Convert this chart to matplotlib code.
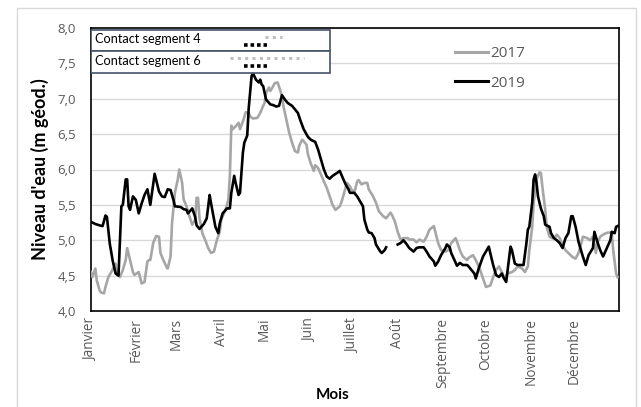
import numpy as np
import matplotlib
matplotlib.use('Agg')
import matplotlib.pyplot as plt
import matplotlib.transforms as mtransforms
from matplotlib.patches import Rectangle

plt.rcParams['font.family'] = ['Open Sans', 'DejaVu Sans']

# Mois (début de chaque mois en jour de l'année)
mois = ['Janvier', 'Février', 'Mars', 'Avril', 'Mai', 'Juin', 'Juillet',
        'Août', 'Septembre', 'Octobre', 'Novembre', 'Décembre']
debut_mois = [0, 31, 59, 90, 120, 151, 181, 212, 243, 273, 304, 334]

# Niveau d'eau 2017
jours_2017 = [0, 1, 3, 4, 6, 7, 9, 10, 12, 14, 17, 18, 20, 22, 24, 25, 27, 29, 30, 33,
              35, 37, 39, 40, 41, 43, 45, 47, 48, 50, 52, 53, 55, 56, 58, 60, 61, 63, 64, 66,
              68, 70, 72, 73, 74, 75, 77, 79, 81, 83, 85, 87, 89, 90, 93, 95, 96, 97, 98, 100,
              102, 103, 105, 107, 109, 110, 112, 115, 117, 119, 120, 121, 123, 124, 126, 127,
              129, 130, 132, 133, 135, 137, 139, 141, 143, 144, 146, 147, 149, 150, 152, 154,
              155, 157, 159, 161, 163, 165, 167, 169, 172, 173, 175, 177, 179, 180, 182, 184,
              185, 187, 189, 191, 192, 195, 197, 199, 202, 204, 207, 208, 210, 212, 214, 216,
              219, 220, 223, 225, 227, 230, 232, 234, 237, 238, 240, 242, 245, 247, 249, 252,
              253, 255, 257, 260, 261, 264, 266, 268, 269, 271, 273, 276, 278, 280, 282, 284,
              286, 288, 291, 293, 295, 298, 300, 302, 303, 305, 306, 308, 310, 311, 312, 314,
              315, 317, 319, 321, 322, 324, 326, 328, 330, 333, 335, 337, 339, 340, 343, 345,
              347, 349, 350, 352, 354, 356, 358, 360, 361, 363, 364]
niveau_2017 = [4.55, 4.48, 4.60, 4.43, 4.29, 4.26, 4.25, 4.34, 4.48, 4.55, 4.67, 4.53, 4.48, 4.58,
               4.72, 4.89, 4.72, 4.55, 4.51, 4.55, 4.39, 4.41, 4.70, 4.72, 4.72, 4.96, 5.06, 5.05,
               4.82, 4.72, 4.63, 4.60, 4.77, 5.24, 5.67, 5.86, 6.00, 5.81, 5.58, 5.48, 5.34, 5.22,
               5.29, 5.60, 5.60, 5.31, 5.10, 5.00, 4.89, 4.82, 4.84, 5.00, 5.12, 5.29, 5.43, 5.58,
               5.91, 6.62, 6.57, 6.61, 6.66, 6.57, 6.68, 6.81, 6.80, 6.75, 6.72, 6.73, 6.80, 6.90,
               6.94, 7.08, 7.16, 7.11, 7.18, 7.22, 7.23, 7.17, 7.04, 6.90, 6.71, 6.52, 6.38, 6.26,
               6.24, 6.34, 6.42, 6.40, 6.35, 6.21, 6.08, 5.98, 6.06, 6.02, 5.93, 5.83, 5.74, 5.62,
               5.50, 5.43, 5.48, 5.53, 5.67, 5.81, 5.76, 5.72, 5.67, 5.83, 5.85, 5.79, 5.81, 5.81,
               5.72, 5.62, 5.53, 5.41, 5.34, 5.31, 5.39, 5.36, 5.27, 5.12, 5.01, 5.03, 5.03, 5.01,
               5.01, 4.97, 5.01, 4.98, 5.05, 5.15, 5.20, 5.12, 4.96, 4.86, 4.84, 4.86, 4.96, 5.03,
               4.98, 4.86, 4.77, 4.72, 4.75, 4.79, 4.72, 4.63, 4.58, 4.46, 4.34, 4.36, 4.48, 4.58,
               4.63, 4.55, 4.46, 4.53, 4.55, 4.58, 4.63, 4.60, 4.55, 4.63, 4.86, 5.19, 5.53, 5.86,
               5.96, 5.95, 5.76, 5.43, 5.19, 5.05, 5.03, 5.05, 5.08, 5.03, 4.93, 4.86, 4.82, 4.76,
               4.74, 4.82, 4.96, 5.05, 5.03, 5.00, 5.05, 4.82, 4.96, 5.05, 5.08, 5.10, 5.11, 5.10,
               4.86, 4.53, 4.48]

# Niveau d'eau 2019 (lacune de mesure fin juillet)
jours_2019 = [0, 3, 6, 8, 10, 11, 13, 15, 17, 19, 20, 21, 22, 24, 25, 26, 27, 29, 31, 33,
              35, 37, 39, 41, 44, 47, 49, 51, 53, 55, 57, 58, 62, 64, 66, 67, 70, 72, 73, 75,
              78, 80, 82, 83, 86, 88, 89, 91, 94, 96, 97, 99, 100, 102, 103, 105, 106, 108, 109,
              111, 112, 114, 116, 117, 118, 119, 121, 124, 126, 128, 130, 132, 134, 136, 139,
              141, 143, 145, 147, 150, 152, 155, 157, 159, 161, 163, 165, 167, 170, 172, 173,
              176, 178, 179, 182, 184, 186, 188, 189, 191, 192, 194, 196, 197, 200, 201, 203,
              204, 208, 212, 214, 216, 218, 220, 223, 225, 227, 230, 232, 234, 237, 238, 240,
              242, 245, 246, 248, 249, 251, 253, 255, 257, 260, 261, 263, 265, 266, 268, 271,
              273, 275, 276, 278, 280, 282, 284, 285, 287, 288, 290, 291, 293, 295, 298, 299,
              301, 302, 303, 305, 306, 307, 308, 309, 311, 313, 314, 317, 318, 320, 322, 324,
              326, 328, 330, 332, 333, 335, 337, 340, 342, 344, 347, 348, 350, 352, 354, 357,
              359, 360, 362, 363, 364]
niveau_2019 = [5.26, 5.23, 5.21, 5.20, 5.35, 5.33, 4.95, 4.71, 4.53, 4.50, 5.00, 5.48, 5.50, 5.86,
               5.86, 5.48, 5.43, 5.62, 5.57, 5.38, 5.52, 5.64, 5.72, 5.50, 5.94, 5.69, 5.62, 5.61,
               5.72, 5.71, 5.57, 5.48, 5.47, 5.44, 5.43, 5.38, 5.45, 5.33, 5.21, 5.16, 5.23, 5.31,
               5.64, 5.52, 5.19, 5.10, 5.24, 5.38, 5.45, 5.45, 5.67, 5.91, 5.81, 5.64, 5.67, 6.24,
               6.38, 6.48, 6.86, 7.32, 7.36, 7.27, 7.23, 7.27, 7.20, 7.18, 6.99, 6.92, 6.91, 6.89,
               6.90, 7.05, 6.99, 6.94, 6.90, 6.85, 6.80, 6.68, 6.57, 6.46, 6.42, 6.39, 6.28, 6.14,
               6.00, 5.90, 5.87, 5.91, 5.95, 5.98, 5.93, 5.79, 5.72, 5.67, 5.67, 5.62, 5.55, 5.48,
               5.29, 5.15, 5.11, 5.10, 5.03, 4.94, 4.84, 4.82, 4.86, 4.90, np.nan, 4.94, 4.96, 5.00,
               4.95, 4.89, 4.84, 4.89, 4.90, 4.90, 4.84, 4.77, 4.70, 4.64, 4.70, 4.79, 4.89, 4.94,
               4.90, 4.82, 4.73, 4.64, 4.68, 4.65, 4.65, 4.63, 4.58, 4.53, 4.46, 4.60, 4.77, 4.84,
               4.91, 4.82, 4.65, 4.51, 4.48, 4.53, 4.48, 4.41, 4.58, 4.91, 4.86, 4.67, 4.65, 4.65,
               4.65, 4.96, 5.15, 5.19, 5.53, 5.86, 5.93, 5.81, 5.62, 5.45, 5.34, 5.22, 5.19, 5.10,
               5.03, 5.00, 4.96, 4.89, 5.03, 5.10, 5.34, 5.34, 5.19, 4.98, 4.77, 4.65, 4.79, 4.89,
               5.12, 4.98, 4.86, 4.77, 4.91, 5.00, 5.12, 5.10, 5.19, 5.20]

# Périodes de contact (jour début, jour fin)
contacts = ['Contact segment 4', 'Contact segment 6']
periode_2017 = [(120, 132), (96, 147)]
periode_2019 = [(106, 122), (106, 122)]

gris = '#a6a6a6'
texte = '#595959'

fig = plt.figure(figsize=(6.41, 4.07), dpi=100)
fig.add_artist(Rectangle((17 / 641, -0.05), 619 / 641, 1 - 8 / 407 + 0.05,
                         transform=fig.transFigure, fill=False, edgecolor='#d9d9d9', lw=1))
ax = fig.add_axes([91 / 641, 1 - 311 / 407, 528 / 641, 283 / 407])

ax.plot(jours_2017, niveau_2017, color=gris, lw=1.9, label='2017', zorder=3)
ax.plot(jours_2019, niveau_2019, color='black', lw=1.9, label='2019', zorder=4)

ax.set_xlim(0, 365)
ax.set_ylim(4.0, 8.0)
ax.set_yticks(np.arange(4.0, 8.01, 0.5))
ax.set_yticklabels([f'{v:.1f}'.replace('.', ',') for v in np.arange(4.0, 8.01, 0.5)])
ax.set_xticks(debut_mois)
ax.set_xticklabels(mois, rotation=90, va='top', ha='center')
ax.tick_params(axis='y', length=0, pad=11, labelsize=9.5, labelcolor=texte)
ax.tick_params(axis='x', length=0, pad=5, labelsize=9.8, labelcolor=texte)
ax.grid(axis='y', color='#d9d9d9', lw=1)
ax.set_axisbelow(True)
for s in ax.spines.values():
    s.set_color('black')
    s.set_linewidth(1.2)

# tableau des contacts
trans = mtransforms.blended_transform_factory(ax.transData, ax.transAxes)
lignes_y = [(0.993, 0.919), (0.919, 0.842)]
for i, nom in enumerate(contacts):
    haut, bas = lignes_y[i]
    ax.add_patch(Rectangle((0.0, bas), 0.453, haut - bas, transform=ax.transAxes,
                           facecolor='white', edgecolor='#44546a', lw=1.2, zorder=6))
    ax.text(0.008, (haut + bas) / 2 + 0.004, nom, transform=ax.transAxes, fontsize=9.2,
            family=['Lato', 'DejaVu Sans'], va='center', ha='left', color='black', zorder=7)
    d0, d1 = periode_2017[i]
    ax.plot([d0, d1], [haut - 0.024, haut - 0.024], transform=trans, color='#bfbfbf',
            lw=2.2, linestyle=(0, (1, 1.4)), solid_capstyle='butt', zorder=7)
    d0, d1 = periode_2019[i]
    ax.plot([d0, d1], [haut - 0.052, haut - 0.052], transform=trans, color='black',
            lw=2.6, linestyle=(0, (1, 0.8)), solid_capstyle='butt', zorder=7)

leg = ax.legend(loc='upper left', bbox_to_anchor=(0.677, 0.958), frameon=False,
                fontsize=11, handlelength=2.2, handletextpad=0.15, labelspacing=0.95,
                borderaxespad=0)
for t in leg.get_texts():
    t.set_color(texte)
for l in leg.get_lines():
    l.set_linewidth(2.2)

fig.text(40 / 641, 1 - 169 / 407, "Niveau d'eau (m géod.)", rotation=90, ha='center',
         va='center', fontsize=13, fontweight='bold', family=['Lato', 'DejaVu Sans'])
fig.text(333 / 641, 1 - 395 / 407, 'Mois', ha='center', va='center', fontsize=11,
         fontweight='bold', family=['Lato', 'DejaVu Sans'])

fig.savefig('out.png', dpi=100, facecolor='white')
